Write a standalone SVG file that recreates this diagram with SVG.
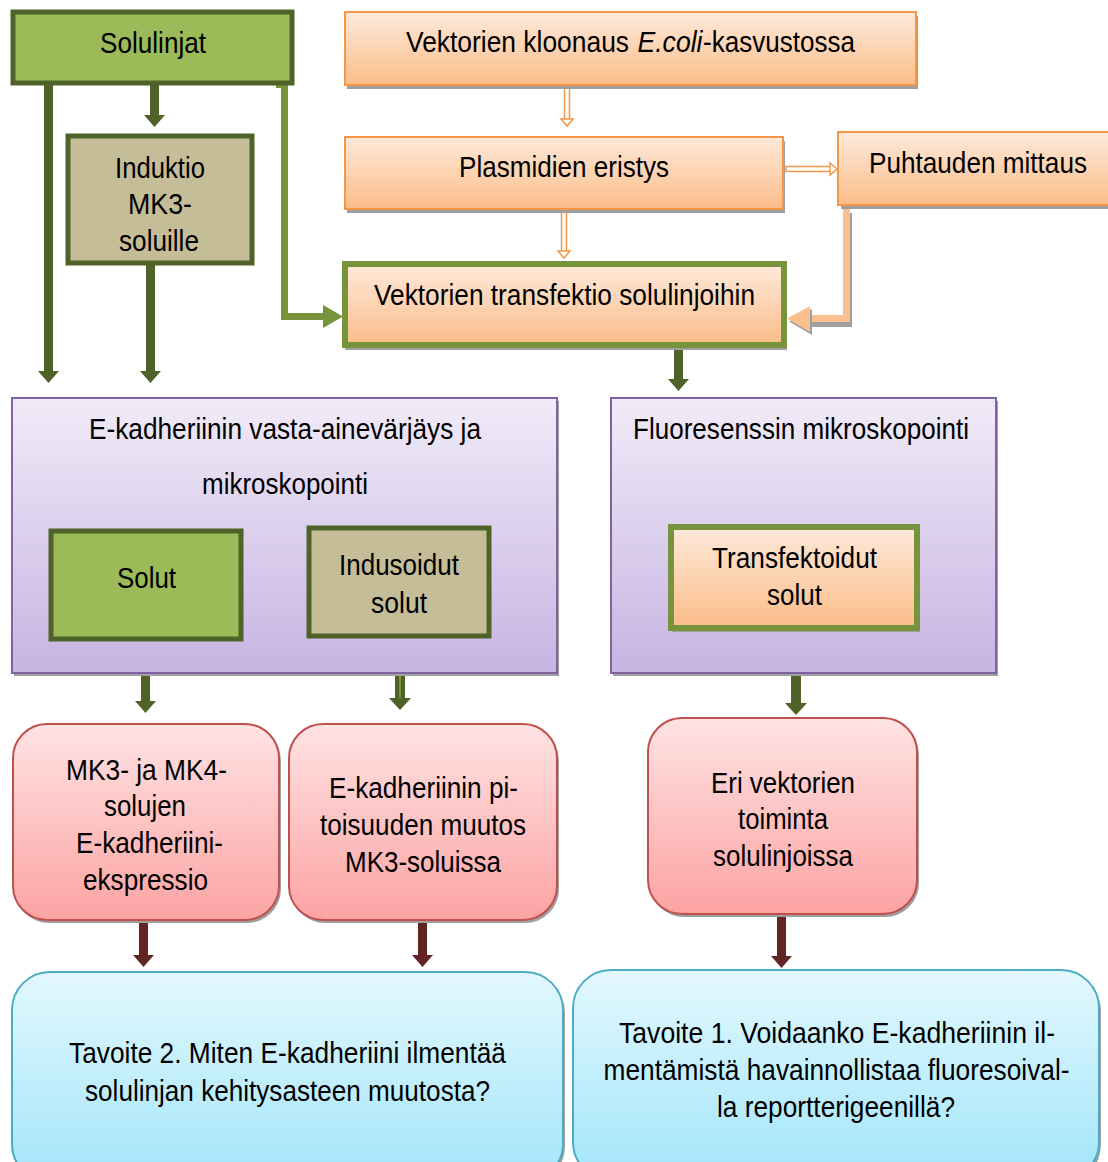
<svg xmlns="http://www.w3.org/2000/svg" width="1108" height="1162" viewBox="0 0 1108 1162">
<defs>
<linearGradient id="gOr" x1="0" y1="0" x2="0" y2="1"><stop offset="0" stop-color="#fee9da"/><stop offset="1" stop-color="#fbbd89"/></linearGradient>
<linearGradient id="gPu" x1="0" y1="0" x2="0" y2="1"><stop offset="0" stop-color="#f0ebf8"/><stop offset="1" stop-color="#c7b4e2"/></linearGradient>
<linearGradient id="gRe" x1="0" y1="0" x2="0" y2="1"><stop offset="0" stop-color="#ffe3e3"/><stop offset="1" stop-color="#fca3a3"/></linearGradient>
<linearGradient id="gBl" x1="0" y1="0" x2="0" y2="1"><stop offset="0" stop-color="#e3f8fd"/><stop offset="1" stop-color="#a2e5fa"/></linearGradient>
</defs>
<style>
text{font-family:"Liberation Sans",Arial,sans-serif;font-size:29px;fill:#000;text-anchor:middle}
.sh{fill:#9f9f9f}
.dg{fill:#9bbb59;stroke:#4f6228;stroke-width:5}
.tan{fill:#c4bd97;stroke:#4f6228;stroke-width:5}
.or{fill:url(#gOr);stroke:#f79646;stroke-width:2}
.org{fill:url(#gOr);stroke:#77933c;stroke-width:6}
.pu{fill:url(#gPu);stroke:#8064a2;stroke-width:2}
.re{fill:url(#gRe);stroke:#c0504d;stroke-width:2}
.bl{fill:url(#gBl);stroke:#4bacc6;stroke-width:2}
.cdg{fill:#4f6228}
.clg{fill:#77933c}
.cdr{fill:#632523}
.clo{fill:#fac08f}
</style>

<g id="connectors">
  <rect class="cdg" x="44" y="85" width="9" height="287"/>
  <polygon class="cdg" points="38,371 59,371 48.5,383"/>
  <rect class="cdg" x="150" y="85" width="9" height="31"/>
  <polygon class="cdg" points="144,115 165,115 154.5,127"/>
  <rect class="cdg" x="146" y="262" width="9" height="110"/>
  <polygon class="cdg" points="140,371 161,371 150.5,383"/>
  <path d="M276,84 H288 V313 H325 V320 H281 V88 H276 Z" class="clg"/>
  <polygon class="clg" points="323,305 343,316.5 323,328"/>
  <rect x="564.5" y="86" width="5" height="34" fill="#fff" stroke="#f79646" stroke-width="1.5"/>
  <polygon points="561,119 573,119 567,126" fill="#fff" stroke="#f79646" stroke-width="1.5"/>
  <rect x="561.5" y="211" width="5" height="41" fill="#fff" stroke="#f79646" stroke-width="1.5"/>
  <polygon points="558,251 570,251 564,258" fill="#fff" stroke="#f79646" stroke-width="1.5"/>
  <rect x="786" y="166.5" width="45" height="5" fill="#fff" stroke="#f79646" stroke-width="1.5"/>
  <polygon points="830,163 830,175 837,169" fill="#fff" stroke="#f79646" stroke-width="1.5"/>
  <path d="M843,210 H850 V324 H810 V317 H843 Z" class="sh" transform="translate(2,3)"/>
  <path d="M843,207 H850 V322 H810 V315 H843 Z" class="clo"/>
  <polygon points="810,306 787,318.5 810,332" class="sh" transform="translate(2,3)"/>
  <polygon points="810,306 787,318.5 810,332" class="clo"/>
  <rect class="cdg" x="674" y="346" width="9" height="34"/>
  <polygon class="cdg" points="668,379 689,379 678.5,391"/>
  <rect class="cdg" x="141" y="640" width="9" height="62"/>
  <polygon class="cdg" points="135,701 156,701 145.5,713"/>
  <rect class="cdg" x="395" y="637" width="10" height="62"/>
  <rect x="399" y="640" width="2" height="58" fill="#77933c"/>
  <polygon class="cdg" points="389,698 411,698 400,710"/>
  <rect class="cdg" x="791" y="628" width="10" height="76"/>
  <polygon class="cdg" points="785,703 807,703 796,715"/>
  <rect class="cdr" x="139" y="918" width="9" height="38"/>
  <polygon class="cdr" points="133,955 154,955 143.5,967"/>
  <rect class="cdr" x="418" y="918" width="9" height="38"/>
  <polygon class="cdr" points="412,955 433,955 422.5,967"/>
  <rect class="cdr" x="777" y="915" width="9" height="42"/>
  <polygon class="cdr" points="771,956 792,956 781.5,968"/>
</g>

<g id="n-solulinjat">
  <rect class="dg" x="13" y="12" width="279" height="71"/>
  <text x="153" y="53" textLength="106" lengthAdjust="spacingAndGlyphs">Solulinjat</text>
</g>
<g id="n-induktio">
  <rect class="tan" x="68" y="136" width="184" height="127"/>
  <text x="160" y="178" textLength="90" lengthAdjust="spacingAndGlyphs">Induktio</text>
  <text x="160" y="214" textLength="64" lengthAdjust="spacingAndGlyphs">MK3-</text>
  <text x="159" y="251" textLength="80" lengthAdjust="spacingAndGlyphs">soluille</text>
</g>
<g id="n-kloonaus">
  <rect class="sh" x="347" y="16" width="571" height="73"/>
  <rect class="or" x="345" y="12" width="571" height="73"/>
  <text transform="translate(517.5,52) scale(0.85,1)" x="0" y="0" textLength="262.4" lengthAdjust="spacingAndGlyphs">Vektorien kloonaus</text>
  <text x="670" y="52" textLength="65" lengthAdjust="spacingAndGlyphs" font-style="italic">E.coli</text>
  <text x="779" y="52" textLength="152" lengthAdjust="spacingAndGlyphs">-kasvustossa</text>
</g>
<g id="n-plasmidien">
  <rect class="sh" x="347" y="141" width="438" height="72"/>
  <rect class="or" x="345" y="137" width="438" height="72"/>
  <text x="564" y="177" textLength="210" lengthAdjust="spacingAndGlyphs">Plasmidien eristys</text>
</g>
<g id="n-puhtauden">
  <rect class="sh" x="841" y="136" width="270" height="73"/>
  <rect class="or" x="838" y="132" width="272" height="73"/>
  <text transform="translate(978,173) scale(0.85,1)" x="0" y="0" textLength="256.5" lengthAdjust="spacingAndGlyphs">Puhtauden mittaus</text>
</g>
<g id="n-transfektio">
  <rect class="sh" x="345" y="267" width="442" height="83"/>
  <rect class="org" x="345" y="264" width="439" height="81"/>
  <text x="564.5" y="305" textLength="381" lengthAdjust="spacingAndGlyphs">Vektorien transfektio solulinjoihin</text>
</g>

<g id="n-vastaaine">
  <rect class="sh" x="14" y="401" width="545" height="275"/>
  <rect class="pu" x="12" y="398" width="545" height="275"/>
  <text x="285" y="439" textLength="392" lengthAdjust="spacingAndGlyphs">E-kadheriinin vasta-ainevärjäys ja</text>
  <text x="285" y="494" textLength="166" lengthAdjust="spacingAndGlyphs">mikroskopointi</text>
</g>
<g id="n-solut">
  <rect class="dg" x="51" y="531" width="190" height="108"/>
  <text x="146.5" y="588" textLength="59" lengthAdjust="spacingAndGlyphs">Solut</text>
</g>
<g id="n-indusoidut">
  <rect class="tan" x="309" y="528" width="180" height="108"/>
  <text x="399" y="575" textLength="120" lengthAdjust="spacingAndGlyphs">Indusoidut</text>
  <text x="399" y="613" textLength="56" lengthAdjust="spacingAndGlyphs">solut</text>
</g>
<g id="n-fluoresenssi">
  <rect class="sh" x="613" y="401" width="385" height="275"/>
  <rect class="pu" x="611" y="398" width="385" height="275"/>
  <text x="801" y="439" textLength="336" lengthAdjust="spacingAndGlyphs">Fluoresenssin mikroskopointi</text>
</g>
<g id="n-transfektoidut">
  <rect class="sh" x="672" y="530" width="248" height="102"/>
  <rect class="org" x="671" y="527" width="246" height="101"/>
  <text x="794.5" y="568" textLength="165" lengthAdjust="spacingAndGlyphs">Transfektoidut</text>
  <text x="794.5" y="605" textLength="55" lengthAdjust="spacingAndGlyphs">solut</text>
</g>

<g id="n-mk3mk4">
  <rect class="sh" x="15" y="727" width="266" height="196" rx="34"/>
  <rect class="re" x="13" y="724" width="266" height="196" rx="34"/>
  <text x="146.5" y="780" textLength="161" lengthAdjust="spacingAndGlyphs">MK3- ja MK4-</text>
  <text x="145" y="816" textLength="82" lengthAdjust="spacingAndGlyphs">solujen</text>
  <text x="149.5" y="853" textLength="147" lengthAdjust="spacingAndGlyphs">E-kadheriini-</text>
  <text x="145.5" y="890" textLength="125" lengthAdjust="spacingAndGlyphs">ekspressio</text>
</g>
<g id="n-pitoisuus">
  <rect class="sh" x="291" y="727" width="268" height="196" rx="34"/>
  <rect class="re" x="289" y="724" width="268" height="196" rx="34"/>
  <text x="423.5" y="798" textLength="189" lengthAdjust="spacingAndGlyphs">E-kadheriinin pi-</text>
  <text x="423" y="835" textLength="206" lengthAdjust="spacingAndGlyphs">toisuuden muutos</text>
  <text x="423" y="872" textLength="156" lengthAdjust="spacingAndGlyphs">MK3-soluissa</text>
</g>
<g id="n-vektorit">
  <rect class="sh" x="650" y="721" width="269" height="196" rx="34"/>
  <rect class="re" x="648" y="718" width="269" height="196" rx="34"/>
  <text x="783" y="793" textLength="144" lengthAdjust="spacingAndGlyphs">Eri vektorien</text>
  <text x="783" y="829" textLength="90" lengthAdjust="spacingAndGlyphs">toiminta</text>
  <text x="783" y="866" textLength="140" lengthAdjust="spacingAndGlyphs">solulinjoissa</text>
</g>

<g id="n-tavoite2">
  <rect class="sh" x="14" y="975" width="551" height="210" rx="38"/>
  <rect class="bl" x="12" y="972" width="551" height="210" rx="38"/>
  <text x="287.5" y="1063" textLength="437" lengthAdjust="spacingAndGlyphs">Tavoite 2. Miten E-kadheriini ilmentää</text>
  <text x="287.5" y="1101" textLength="405" lengthAdjust="spacingAndGlyphs">solulinjan kehitysasteen muutosta?</text>
</g>
<g id="n-tavoite1">
  <rect class="sh" x="575" y="973" width="526" height="210" rx="38"/>
  <rect class="bl" x="573" y="970" width="526" height="210" rx="38"/>
  <text transform="translate(837,1043) scale(0.85,1)" x="0" y="0" textLength="512.9" lengthAdjust="spacingAndGlyphs">Tavoite 1. Voidaanko E-kadheriinin il-</text>
  <text transform="translate(836.5,1080) scale(0.85,1)" x="0" y="0" textLength="548.2" lengthAdjust="spacingAndGlyphs">mentämistä havainnollistaa fluoresoival-</text>
  <text x="836" y="1117" textLength="238" lengthAdjust="spacingAndGlyphs">la reportterigeenillä?</text>
</g>
</svg>
